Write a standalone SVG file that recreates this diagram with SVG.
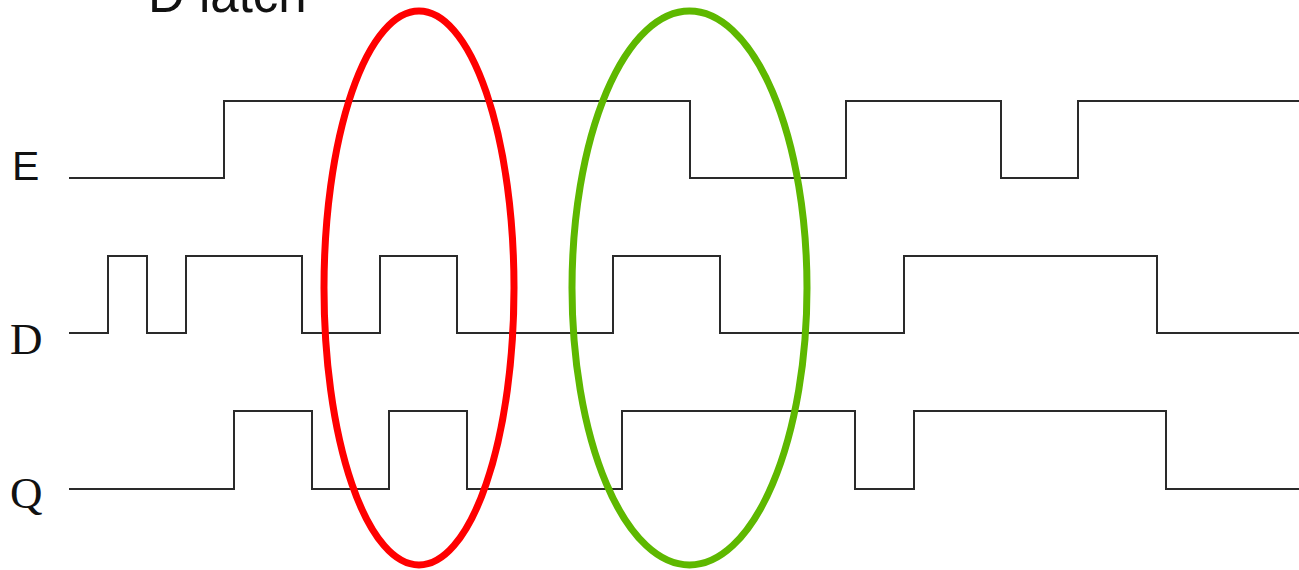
<svg xmlns="http://www.w3.org/2000/svg" width="1299" height="570" viewBox="0 0 1299 570">
  <style>
    .wave { fill: none; stroke: #2a2a2a; stroke-width: 2; stroke-linejoin: miter; }
    .sans { font-family: "Liberation Sans", Arial, sans-serif; fill: #111; }
    .serif { font-family: "Liberation Serif", "Times New Roman", serif; fill: #111; }
    .mark { fill: none; stroke-width: 7; }
  </style>
  <rect width="1299" height="570" fill="#ffffff"/>

  <!-- title -->
  <text class="sans" x="148" y="12" font-size="51">D latch</text>

  <!-- enable signal -->
  <g id="sig-E">
    <text class="sans" x="12" y="180" font-size="41">E</text>
    <polyline class="wave" points="69,178 224,178 224,101 690,101 690,178 846,178 846,101 1001,101 1001,178 1078,178 1078,101 1299,101"/>
  </g>

  <!-- data input -->
  <g id="sig-D">
    <text class="serif" x="10" y="354" font-size="45">D</text>
    <polyline class="wave" points="69,333 108,333 108,256 147,256 147,333 186,333 186,256 302,256 302,333 380,333 380,256 457,256 457,333 613,333 613,256 720,256 720,333 904,333 904,256 1157,256 1157,333 1299,333"/>
  </g>

  <!-- latch output -->
  <g id="sig-Q">
    <text class="serif" x="10" y="508" font-size="45">Q</text>
    <polyline class="wave" points="69,489 234,489 234,411 312,411 312,489 389,489 389,411 467,411 467,489 622,489 622,411 855,411 855,489 914,489 914,411 1166,411 1166,489 1299,489"/>
  </g>

  <!-- highlighted intervals -->
  <g id="highlights">
    <ellipse id="mark-transparent" class="mark" stroke="#ff0000" cx="419" cy="288" rx="95" ry="277"/>
    <ellipse id="mark-hold" class="mark" stroke="#5eb800" cx="689.5" cy="288" rx="117.5" ry="277"/>
  </g>
</svg>
